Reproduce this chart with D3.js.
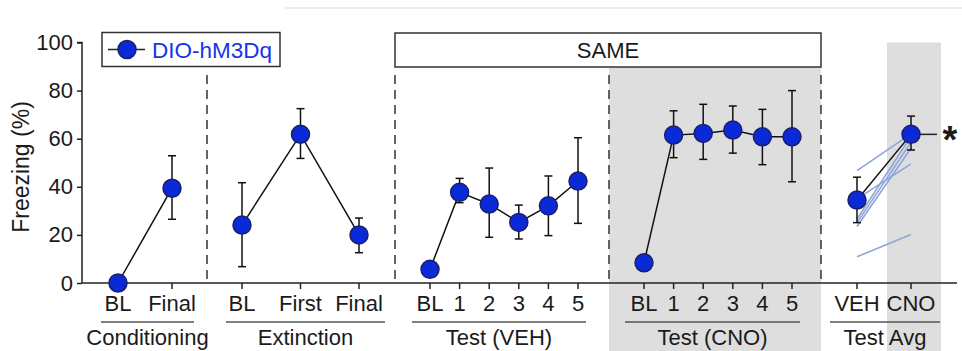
<!DOCTYPE html>
<html>
<head>
<meta charset="utf-8">
<script src="https://cdn.jsdelivr.net/npm/d3@7"></script>
<style>
  body { margin: 0; background: #fff; }
  text { font-family: "Liberation Sans", Arial, sans-serif; fill: #1a1a1a; }
</style>
</head>
<body>
<div id="chart"></div>
<script>
// data (freezing %, mean and error bar ends)
var condLabels = ["BL", "Final"],
	condMean = [0, 39.4],
	condLo = [0, 26.5],
	condHi = [0, 52.9];

var extLabels = ["BL", "First", "Final"],
	extMean = [24.1, 61.8, 20.0],
	extLo = [6.8, 51.8, 12.6],
	extHi = [41.7, 72.5, 27.0];

var testLabels = ["BL", "1", "2", "3", "4", "5"],
	vehMean = [5.7, 37.7, 32.8, 25.2, 32.1, 42.4],
	vehLo = [5.7, 33.4, 19.0, 18.3, 19.7, 24.8],
	vehHi = [5.7, 43.5, 47.8, 32.4, 44.5, 60.4];

var cnoMean = [8.4, 61.5, 62.2, 63.6, 60.8, 60.8],
	cnoLo = [8.4, 52.1, 51.4, 54.0, 49.2, 42.1],
	cnoHi = [8.4, 71.6, 74.3, 73.6, 72.2, 80.0];

var avgLabels = ["VEH", "CNO"],
	avgMean = [34.5, 61.8],
	avgLo = [25.1, 55.3],
	avgHi = [44.0, 69.4];

// individual animals, test average (VEH, CNO)
var indivVeh = [46.7, 10.9, 35.0, 23.5, 25.0, 26.5],
	indivCno = [62.0, 20.2, 49.5, 56.0, 58.5, 61.0];

var yTicks = [0, 20, 40, 60, 80, 100];
var seriesName = "DIO-hM3Dq";

var W = 962, H = 351, FS = 22;
var dotFill = "#0a2ad8", dotStroke = "#1b1f6b";

var svg = d3.select("#chart").append("svg").attr("width", W).attr("height", H);

var y = d3.scaleLinear().domain([0, 100]).range([283, 42.5]);

// groups, each with its own point scale
var groups = [
	{name: "Conditioning", labels: condLabels, mean: condMean, lo: condLo, hi: condHi, range: [118, 172], under: [101, 194]},
	{name: "Extinction", labels: extLabels, mean: extMean, lo: extLo, hi: extHi, range: [242, 359], under: [226, 385]},
	{name: "Test (VEH)", labels: testLabels, mean: vehMean, lo: vehLo, hi: vehHi, range: [430, 578], under: [412, 586]},
	{name: "Test (CNO)", labels: testLabels, mean: cnoMean, lo: cnoLo, hi: cnoHi, range: [644, 792], under: [625, 800]},
	{name: "Test Avg", labels: avgLabels, mean: avgMean, lo: avgLo, hi: avgHi, range: [857, 911], under: [830, 940]}
];
groups.forEach(function(g){
	g.x = d3.scalePoint().domain(g.labels).range(g.range).padding(0);
});

// faint rule at top
svg.append("line").attr("x1", 285).attr("x2", W).attr("y1", 8).attr("y2", 8)
	.attr("stroke", "#e6e6e6").attr("stroke-width", 1.5);

// shaded CNO areas
svg.append("rect").attr("x", 609).attr("y", 67).attr("width", 212).attr("height", H - 67).attr("fill", "#dedede");
var avgX = groups[4].x;
svg.append("rect").attr("x", avgX("CNO") - 24).attr("y", y(100)).attr("width", 54).attr("height", H - y(100)).attr("fill", "#dedede");

// dashed separators
[207, 395, 609, 821].forEach(function(xx){
	svg.append("line").attr("x1", xx).attr("x2", xx).attr("y1", 75).attr("y2", y(0))
		.attr("stroke", "#333").attr("stroke-width", 1.5).attr("stroke-dasharray", "9,6");
});

// SAME box
svg.append("rect").attr("x", 395).attr("y", 33).attr("width", 426).attr("height", 34)
	.attr("fill", "#fff").attr("stroke", "#333").attr("stroke-width", 1.5);
svg.append("text").attr("x", 608).attr("y", 58).attr("text-anchor", "middle")
	.attr("font-size", FS).text("SAME");

// y axis
var yAxis = svg.append("g").attr("transform", "translate(82,0)")
	.call(d3.axisLeft(y).tickValues(yTicks).tickSize(5).tickPadding(4));
yAxis.selectAll("text").attr("font-size", FS).style("font-family", "'Liberation Sans', Arial, sans-serif").attr("fill", "#1a1a1a");
yAxis.selectAll("line, path").attr("stroke", "#222").attr("stroke-width", 1.5);
yAxis.select(".domain").attr("d", "M-5," + y(100) + "H0V" + y(0));

svg.append("text").attr("transform", "translate(29,167) rotate(-90)")
	.attr("text-anchor", "middle").attr("font-size", 23).text("Freezing (%)");

// x baseline
svg.append("line").attr("x1", 82).attr("x2", 957).attr("y1", y(0)).attr("y2", y(0))
	.attr("stroke", "#222").attr("stroke-width", 1.5);

// individual lines (test avg)
svg.selectAll(".indiv").data(indivVeh).enter().append("line")
	.attr("x1", avgX("VEH")).attr("x2", avgX("CNO"))
	.attr("y1", function(d){ return y(d); })
	.attr("y2", function(d, i){ return y(indivCno[i]); })
	.attr("stroke", "#8fa5d8").attr("stroke-width", 1.6);

// significance marker
svg.append("line").attr("x1", avgX("CNO")).attr("x2", 937)
	.attr("y1", y(avgMean[1])).attr("y2", y(avgMean[1]))
	.attr("stroke", "#222").attr("stroke-width", 1.5);
svg.append("text").attr("x", 950).attr("y", y(avgMean[1]) + 19).attr("text-anchor", "middle")
	.attr("font-size", 38).attr("font-weight", "bold").text("*");

groups.forEach(function(g){
	var pts = g.labels.map(function(l, i){ return {x: g.x(l), m: g.mean[i], lo: g.lo[i], hi: g.hi[i], l: l}; });
	var gg = svg.append("g");

	// ticks + labels
	pts.forEach(function(p){
		gg.append("line").attr("x1", p.x).attr("x2", p.x).attr("y1", y(0)).attr("y2", y(0) + 6)
			.attr("stroke", "#222").attr("stroke-width", 1.5);
		gg.append("text").attr("x", p.x).attr("y", 311).attr("text-anchor", "middle")
			.attr("font-size", FS).text(p.l);
	});
	gg.append("line").attr("x1", g.under[0]).attr("x2", g.under[1]).attr("y1", 322).attr("y2", 322)
		.attr("stroke", "#555").attr("stroke-width", 1.5);
	gg.append("text").attr("x", (g.under[0] + g.under[1]) / 2).attr("y", 345).attr("text-anchor", "middle")
		.attr("font-size", FS).text(g.name);

	// connecting line
	gg.append("path").datum(pts)
		.attr("d", d3.line().x(function(d){ return d.x; }).y(function(d){ return y(d.m); }))
		.attr("fill", "none").attr("stroke", "#111").attr("stroke-width", 1.5);

	// error bars
	pts.filter(function(p){ return p.hi > p.lo; }).forEach(function(p){
		gg.append("line").attr("x1", p.x).attr("x2", p.x).attr("y1", y(p.lo)).attr("y2", y(p.hi))
			.attr("stroke", "#111").attr("stroke-width", 1.5);
		[p.lo, p.hi].forEach(function(v){
			gg.append("line").attr("x1", p.x - 4).attr("x2", p.x + 4).attr("y1", y(v)).attr("y2", y(v))
				.attr("stroke", "#111").attr("stroke-width", 1.5);
		});
	});

	gg.selectAll("circle").data(pts).enter().append("circle")
		.attr("cx", function(d){ return d.x; })
		.attr("cy", function(d){ return y(d.m); })
		.attr("r", 9)
		.attr("fill", dotFill).attr("stroke", dotStroke).attr("stroke-width", 1.5);
});

// legend
var lg = svg.append("g");
lg.append("rect").attr("x", 102).attr("y", 32.5).attr("width", 178).attr("height", 34)
	.attr("fill", "#fff").attr("stroke", "#333").attr("stroke-width", 1.5);
lg.append("line").attr("x1", 108).attr("x2", 145).attr("y1", 49.5).attr("y2", 49.5)
	.attr("stroke", "#222").attr("stroke-width", 1.5);
lg.append("circle").attr("cx", 127).attr("cy", 49.5).attr("r", 9)
	.attr("fill", dotFill).attr("stroke", dotStroke).attr("stroke-width", 1.5);
lg.append("text").attr("x", 152).attr("y", 57.5).attr("font-size", 22.5)
	.style("fill", "#1535e6").text(seriesName);
</script>
</body>
</html>
